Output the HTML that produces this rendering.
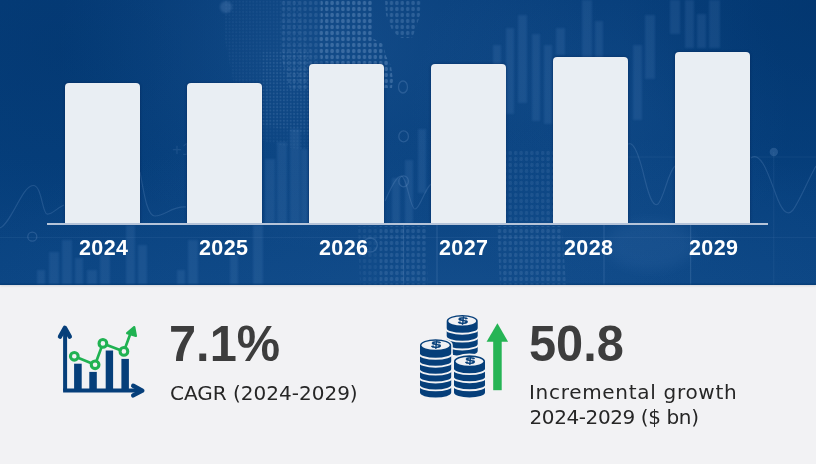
<!DOCTYPE html>
<html><head><meta charset="utf-8">
<style>
*{margin:0;padding:0;box-sizing:border-box}
html,body{width:816px;height:464px;overflow:hidden;background:#f2f2f4}
body{position:relative;font-family:"Liberation Sans",sans-serif}
#top{position:absolute;left:0;top:0;width:816px;height:285px;background:#063b78;overflow:hidden;box-shadow:0 1px 2px rgba(0,20,50,0.12)}
#bgsvg{position:absolute;left:0;top:0}
.bar{position:absolute;width:75px;background:#e9eef3;border-radius:4px 4px 0 0;box-shadow:0 0 2px 1px rgba(0,30,80,0.3)}
#base{position:absolute;left:47px;top:223px;width:721px;height:2px;background:#b6c4d9}
.yr{position:absolute;top:235.5px;color:#fff;font-weight:bold;font-size:21.5px;letter-spacing:0.4px;line-height:24px;white-space:nowrap}
.big{position:absolute;font-weight:bold;color:#3d3d3d;font-size:50.5px;line-height:60px;transform:scaleX(0.965);transform-origin:0 0;white-space:nowrap}
.lbl{position:absolute;color:#262626;font-size:20.5px;line-height:25.5px;white-space:nowrap}
.dj{font-family:"DejaVu Sans",sans-serif;font-size:20px}
</style></head><body>
<div id="top">
<svg id="bgsvg" width="816" height="285" viewBox="0 0 816 285">
<defs>
<linearGradient id="g0" x1="0" y1="0" x2="0" y2="1">
<stop offset="0" stop-color="#053c78"/><stop offset="0.55" stop-color="#063f7c"/><stop offset="1" stop-color="#0b4583"/>
</linearGradient>
<radialGradient id="r1" gradientUnits="userSpaceOnUse" cx="330" cy="40" r="210" gradientTransform="translate(330 40) scale(1.3 1) translate(-330 -40)">
<stop offset="0" stop-color="#3a74b4" stop-opacity="0.26"/><stop offset="1" stop-color="#3a74b4" stop-opacity="0"/>
</radialGradient>
<radialGradient id="r2" gradientUnits="userSpaceOnUse" cx="600" cy="110" r="190">
<stop offset="0" stop-color="#3a74b4" stop-opacity="0.17"/><stop offset="1" stop-color="#3a74b4" stop-opacity="0"/>
</radialGradient>
<radialGradient id="r3" gradientUnits="userSpaceOnUse" cx="450" cy="290" r="330" gradientTransform="translate(450 290) scale(1.6 0.5) translate(-450 -290)">
<stop offset="0" stop-color="#3a74b4" stop-opacity="0.16"/><stop offset="1" stop-color="#3a74b4" stop-opacity="0"/>
</radialGradient>
<radialGradient id="r4" gradientUnits="userSpaceOnUse" cx="816" cy="0" r="200">
<stop offset="0" stop-color="#01336a" stop-opacity="0.55"/><stop offset="1" stop-color="#01336a" stop-opacity="0"/>
</radialGradient>
<radialGradient id="r5" gradientUnits="userSpaceOnUse" cx="60" cy="50" r="200">
<stop offset="0" stop-color="#01336a" stop-opacity="0.35"/><stop offset="1" stop-color="#01336a" stop-opacity="0"/>
</radialGradient>
<pattern id="dots" width="5.4" height="6" patternUnits="userSpaceOnUse">
<ellipse cx="2.7" cy="3" rx="1.8" ry="2.2" fill="#8fb2dc"/>
</pattern>
<pattern id="fdots" width="3.4" height="3.4" patternUnits="userSpaceOnUse">
<circle cx="1.7" cy="1.7" r="1" fill="#8fb2dc"/>
</pattern>
<filter id="bl" x="-20%" y="-20%" width="140%" height="140%"><feGaussianBlur stdDeviation="1.2"/></filter>
<filter id="bl3" x="-5%" y="-5%" width="110%" height="110%"><feGaussianBlur stdDeviation="0.55"/></filter>
<filter id="bl2" x="-20%" y="-20%" width="140%" height="140%"><feGaussianBlur stdDeviation="6"/></filter>
</defs>
<rect width="816" height="285" fill="url(#g0)"/>
<rect width="816" height="285" fill="url(#r1)"/>
<rect width="816" height="285" fill="url(#r2)"/>
<rect width="816" height="285" fill="url(#r3)"/>
<rect width="816" height="285" fill="url(#r4)"/>
<rect width="816" height="285" fill="url(#r5)"/>
<!-- fine dot texture -->
<path fill="url(#fdots)" opacity="0.07" d="M225,0 L300,0 L305,40 L330,80 L340,140 L300,150 L260,140 L235,90 L225,40 Z"/>
<path fill="url(#fdots)" opacity="0.10" d="M262,50 L309,50 L309,135 L262,125 Z"/>
<!-- dotted map -->
<g fill="url(#dots)" filter="url(#bl3)">
<path opacity="0.32" d="M321,0 L372,0 L373,20 L372,38 L383,44 L386,56 L391,66 L393,80 L392,88 L378,88 L374,70 L362,64 L345,64 L330,64 L321,60 L318,40 L321,20 Z"/>
<path opacity="0.16" d="M280,0 L321,0 L321,20 L318,40 L321,60 L330,64 L320,90 L290,90 L282,60 L280,30 Z"/>
<path opacity="0.24" d="M385,0 L421,0 L420,15 L416,28 L412,38 L400,38 L392,30 L386,15 Z"/>
<path opacity="0.17" d="M380,226 L426,226 L428,285 L380,285 Z"/>
<path opacity="0.09" d="M358,226 L380,226 L380,285 L360,285 Z"/>
<path opacity="0.16" d="M497,226 L562,226 L566,285 L500,285 Z"/>
<path opacity="0.12" d="M506,150 L553,150 L553,222 L506,222 Z"/>

</g>
<ellipse cx="650" cy="245" rx="45" ry="25" fill="#5f8fca" opacity="0.10" filter="url(#bl2)"/>
<circle cx="226" cy="7" r="6" fill="#6f98cc" opacity="0.25" filter="url(#bl)"/>
<text x="172" y="155" font-family="'Liberation Sans', sans-serif" font-size="17" fill="#7aa0d0" opacity="0.15">+1</text>
<g fill="none" stroke="#7aa0d0" stroke-width="1.3" opacity="0.25">
<ellipse cx="403" cy="87" rx="4.5" ry="6"/>
<ellipse cx="403.6" cy="136.4" rx="4.8" ry="5.5"/>
<ellipse cx="403.6" cy="181.3" rx="4.8" ry="5.5"/>
<circle cx="32.3" cy="236.7" r="4.5"/>
<circle cx="370.3" cy="245" r="7"/>
<line x1="403.7" y1="225" x2="403.7" y2="285" stroke-width="1"/>
<line x1="437" y1="225" x2="437" y2="285" stroke-width="1"/>
<line x1="604" y1="225" x2="604" y2="285" stroke-width="1"/>
<line x1="690.7" y1="225" x2="690.7" y2="285" stroke-width="1"/>
<circle cx="773.8" cy="152" r="3.5" fill="#7aa0d0"/>
</g>
<!-- faint vertical bars -->
<g fill="#6a98d0" opacity="0.15" filter="url(#bl)">
<rect x="493" y="45" width="8" height="105"/>
<rect x="506" y="28" width="8" height="86"/>
<rect x="518" y="15" width="9" height="88"/>
<rect x="532" y="34" width="8" height="87"/>
<rect x="544" y="45" width="8" height="79"/>
<rect x="556" y="28" width="9" height="27"/>
<rect x="582" y="0" width="10" height="62"/>
<rect x="595" y="21" width="8" height="38"/>
<rect x="633" y="45" width="9" height="75"/>
<rect x="645" y="15" width="10" height="64"/>
<rect x="670" y="0" width="10" height="34"/>
<rect x="685" y="0" width="9" height="48"/>
<rect x="697" y="14" width="9" height="34"/>
<rect x="709" y="0" width="11" height="48"/>
<rect x="265" y="159" width="10" height="64"/>
<rect x="277" y="142" width="10" height="81"/>
<rect x="290" y="129" width="10" height="94"/>
<rect x="301" y="149" width="7" height="74"/>
<rect x="392" y="178" width="8" height="45"/>
<rect x="405" y="160" width="8" height="63"/>
<rect x="418" y="129" width="8" height="64"/>
<rect x="37" y="270" width="8" height="15"/>
<rect x="49" y="252" width="10" height="33"/>
<rect x="62" y="240" width="10" height="45"/>
<rect x="75" y="258" width="8" height="27"/>
<rect x="87" y="270" width="10" height="15"/>
<rect x="100" y="255" width="10" height="30"/>
<rect x="126" y="225" width="9" height="60"/>
<rect x="138" y="245" width="9" height="40"/>
<rect x="177" y="270" width="8" height="15"/>
<rect x="188" y="240" width="10" height="45"/>
<rect x="230" y="255" width="8" height="30"/>
<rect x="253" y="225" width="10" height="60"/>
</g>
<!-- wave lines -->
<g fill="none" stroke="#7aa0d0" stroke-width="1.2" opacity="0.22">
<path d="M0,228 C12,222 22,186 33,185.5 C42,185 42,213 47,214 C52,215 55,209 64,205"/>
<path d="M140,172 C145,200 148,216 155,216 C165,216 172,206 186,207"/>
<path d="M626,146 C632,138 638,150 645,180 C650,200 654,207 658,204 C664,198 668,172 675,166"/>
<path d="M751,158 C762,150 770,180 778,200 C783,212 788,216 793,210 C800,200 808,180 816,166"/>
<line x1="773.8" y1="152" x2="773.8" y2="285" stroke-width="1" opacity="0.5"/>
<path d="M385,201 C390,190 396,176 401,176 C407,176 410,209 415,209 C420,209 424,190 431,184"/>
</g>
<g fill="none" stroke="#7aa0d0" stroke-width="1" opacity="0.10">
<line x1="0" y1="237.5" x2="816" y2="237.5"/>
<line x1="628" y1="157" x2="816" y2="157"/>

</g>
<rect x="0" y="283.5" width="816" height="1.5" fill="#02356c" opacity="0.5"/>
</svg>
<div class="bar" style="left:65px;top:83px;height:140px"></div>
<div class="bar" style="left:187px;top:83px;height:140px"></div>
<div class="bar" style="left:309px;top:64px;height:159px"></div>
<div class="bar" style="left:431px;top:64px;height:159px"></div>
<div class="bar" style="left:553px;top:57px;height:166px"></div>
<div class="bar" style="left:675px;top:52px;height:171px"></div>
<div id="base"></div>
<div class="yr" style="left:79px">2024</div>
<div class="yr" style="left:199px">2025</div>
<div class="yr" style="left:319px">2026</div>
<div class="yr" style="left:439px">2027</div>
<div class="yr" style="left:564px">2028</div>
<div class="yr" style="left:689px">2029</div>
</div>

<svg style="position:absolute;left:0;top:0" width="816" height="464">
<!-- chart icon -->
<g fill="#063f7a" stroke="none">
<rect x="74.1" y="363.7" width="7.6" height="26"/>
<rect x="89.3" y="371.9" width="7.5" height="18"/>
<rect x="105.7" y="350.5" width="7.4" height="39"/>
<rect x="121.4" y="358.9" width="7.5" height="31"/>
</g>
<g fill="none" stroke="#063f7a" stroke-width="4" stroke-linecap="round" stroke-linejoin="round">
<line x1="65.1" y1="330" x2="65.1" y2="390.6" stroke-linecap="butt"/>
<polyline points="60,336.6 64.9,327.9 69.8,336.6" stroke-width="4.4"/>
<line x1="63.1" y1="390.6" x2="141" y2="390.6" stroke-linecap="butt"/>
<polyline points="133.2,385.8 142.3,390.6 133.2,395.4" stroke-width="4.4"/>
</g>
<g fill="none" stroke="#20b252" stroke-width="2.7" stroke-linejoin="round">
<polyline points="74.3,356.3 95.1,364.8 102.9,343.4 123.9,351.4 131,332"/>
</g>
<g fill="#f2f2f4" stroke="#20b252" stroke-width="3.1">
<circle cx="74.3" cy="356.3" r="3.85"/>
<circle cx="95.1" cy="364.8" r="3.85"/>
<circle cx="102.9" cy="343.4" r="3.85"/>
<circle cx="123.9" cy="351.4" r="3.85"/>
</g>
<g id="coins">
<path d="M446.70,321.00 A15.50,6.10 0 0 1 477.70,321.00 L477.70,351.00 A15.50,5.00 0 0 1 446.70,351.00 Z" fill="#063f7a"/>
<path d="M445.70,328.40 A16.50,5.30 0 0 0 478.70,328.40" fill="none" stroke="#f2f2f4" stroke-width="1.9"/>
<path d="M445.70,336.30 A16.50,5.30 0 0 0 478.70,336.30" fill="none" stroke="#f2f2f4" stroke-width="1.9"/>
<path d="M445.70,344.20 A16.50,5.30 0 0 0 478.70,344.20" fill="none" stroke="#f2f2f4" stroke-width="1.9"/>
<ellipse cx="462.20" cy="321.00" rx="13.90" ry="4.50" fill="#f0f1f4"/>
<text x="0" y="0" transform="translate(462.50,323.70) scale(1.45,0.8) skewX(-4)" text-anchor="middle" font-family="'Liberation Sans', sans-serif" font-weight="bold" font-size="12.5" fill="#063f7a" stroke="#063f7a" stroke-width="0.35">$</text>
<path d="M420.00,345.30 A15.60,6.10 0 0 1 451.20,345.30 L451.20,392.60 A15.60,5.00 0 0 1 420.00,392.60 Z" fill="#f2f2f4" stroke="#f2f2f4" stroke-width="3.2"/>
<path d="M420.00,345.30 A15.60,6.10 0 0 1 451.20,345.30 L451.20,392.60 A15.60,5.00 0 0 1 420.00,392.60 Z" fill="#063f7a"/>
<path d="M419.00,353.50 A16.60,5.30 0 0 0 452.20,353.50" fill="none" stroke="#f2f2f4" stroke-width="1.9"/>
<path d="M419.00,361.40 A16.60,5.30 0 0 0 452.20,361.40" fill="none" stroke="#f2f2f4" stroke-width="1.9"/>
<path d="M419.00,369.30 A16.60,5.30 0 0 0 452.20,369.30" fill="none" stroke="#f2f2f4" stroke-width="1.9"/>
<path d="M419.00,377.20 A16.60,5.30 0 0 0 452.20,377.20" fill="none" stroke="#f2f2f4" stroke-width="1.9"/>
<path d="M419.00,385.10 A16.60,5.30 0 0 0 452.20,385.10" fill="none" stroke="#f2f2f4" stroke-width="1.9"/>
<ellipse cx="435.60" cy="345.30" rx="14.00" ry="4.50" fill="#f0f1f4"/>
<text x="0" y="0" transform="translate(435.90,348.00) scale(1.45,0.8) skewX(-4)" text-anchor="middle" font-family="'Liberation Sans', sans-serif" font-weight="bold" font-size="12.5" fill="#063f7a" stroke="#063f7a" stroke-width="0.35">$</text>
<path d="M454.00,361.30 A15.50,6.10 0 0 1 485.00,361.30 L485.00,392.40 A15.50,5.00 0 0 1 454.00,392.40 Z" fill="#f2f2f4" stroke="#f2f2f4" stroke-width="3.2"/>
<path d="M454.00,361.30 A15.50,6.10 0 0 1 485.00,361.30 L485.00,392.40 A15.50,5.00 0 0 1 454.00,392.40 Z" fill="#063f7a"/>
<path d="M453.00,368.80 A16.50,5.30 0 0 0 486.00,368.80" fill="none" stroke="#f2f2f4" stroke-width="1.9"/>
<path d="M453.00,376.90 A16.50,5.30 0 0 0 486.00,376.90" fill="none" stroke="#f2f2f4" stroke-width="1.9"/>
<path d="M453.00,385.00 A16.50,5.30 0 0 0 486.00,385.00" fill="none" stroke="#f2f2f4" stroke-width="1.9"/>
<ellipse cx="469.50" cy="361.30" rx="13.80" ry="4.40" fill="#f0f1f4"/>
<text x="0" y="0" transform="translate(469.80,364.00) scale(1.45,0.8) skewX(-4)" text-anchor="middle" font-family="'Liberation Sans', sans-serif" font-weight="bold" font-size="12.5" fill="#063f7a" stroke="#063f7a" stroke-width="0.35">$</text>
</g>
<g fill="#26b455"><rect x="493.2" y="338" width="8.5" height="52.2"/><path d="M497.4,323.3 L486.6,341.7 L508.1,341.7 Z"/></g>
<path d="M134.2,327.2 L127.2,333.2 L135.8,335.8 Z" fill="#20b252" stroke="#20b252" stroke-width="2.4" stroke-linejoin="round"/>
</svg>

<div class="big" style="left:169px;top:313.5px">7.1%</div>
<div class="lbl dj" style="left:170px;top:380.6px;letter-spacing:0px">CAGR (2024-2029)</div>
<div class="big" style="left:529px;top:313.5px">50.8</div>
<div class="lbl dj" style="left:529px;top:380px;letter-spacing:0.7px">Incremental growth</div>
<div class="lbl dj" style="left:529.5px;top:405px;letter-spacing:-0.4px">2024-2029 ($ bn)</div>
</body></html>
